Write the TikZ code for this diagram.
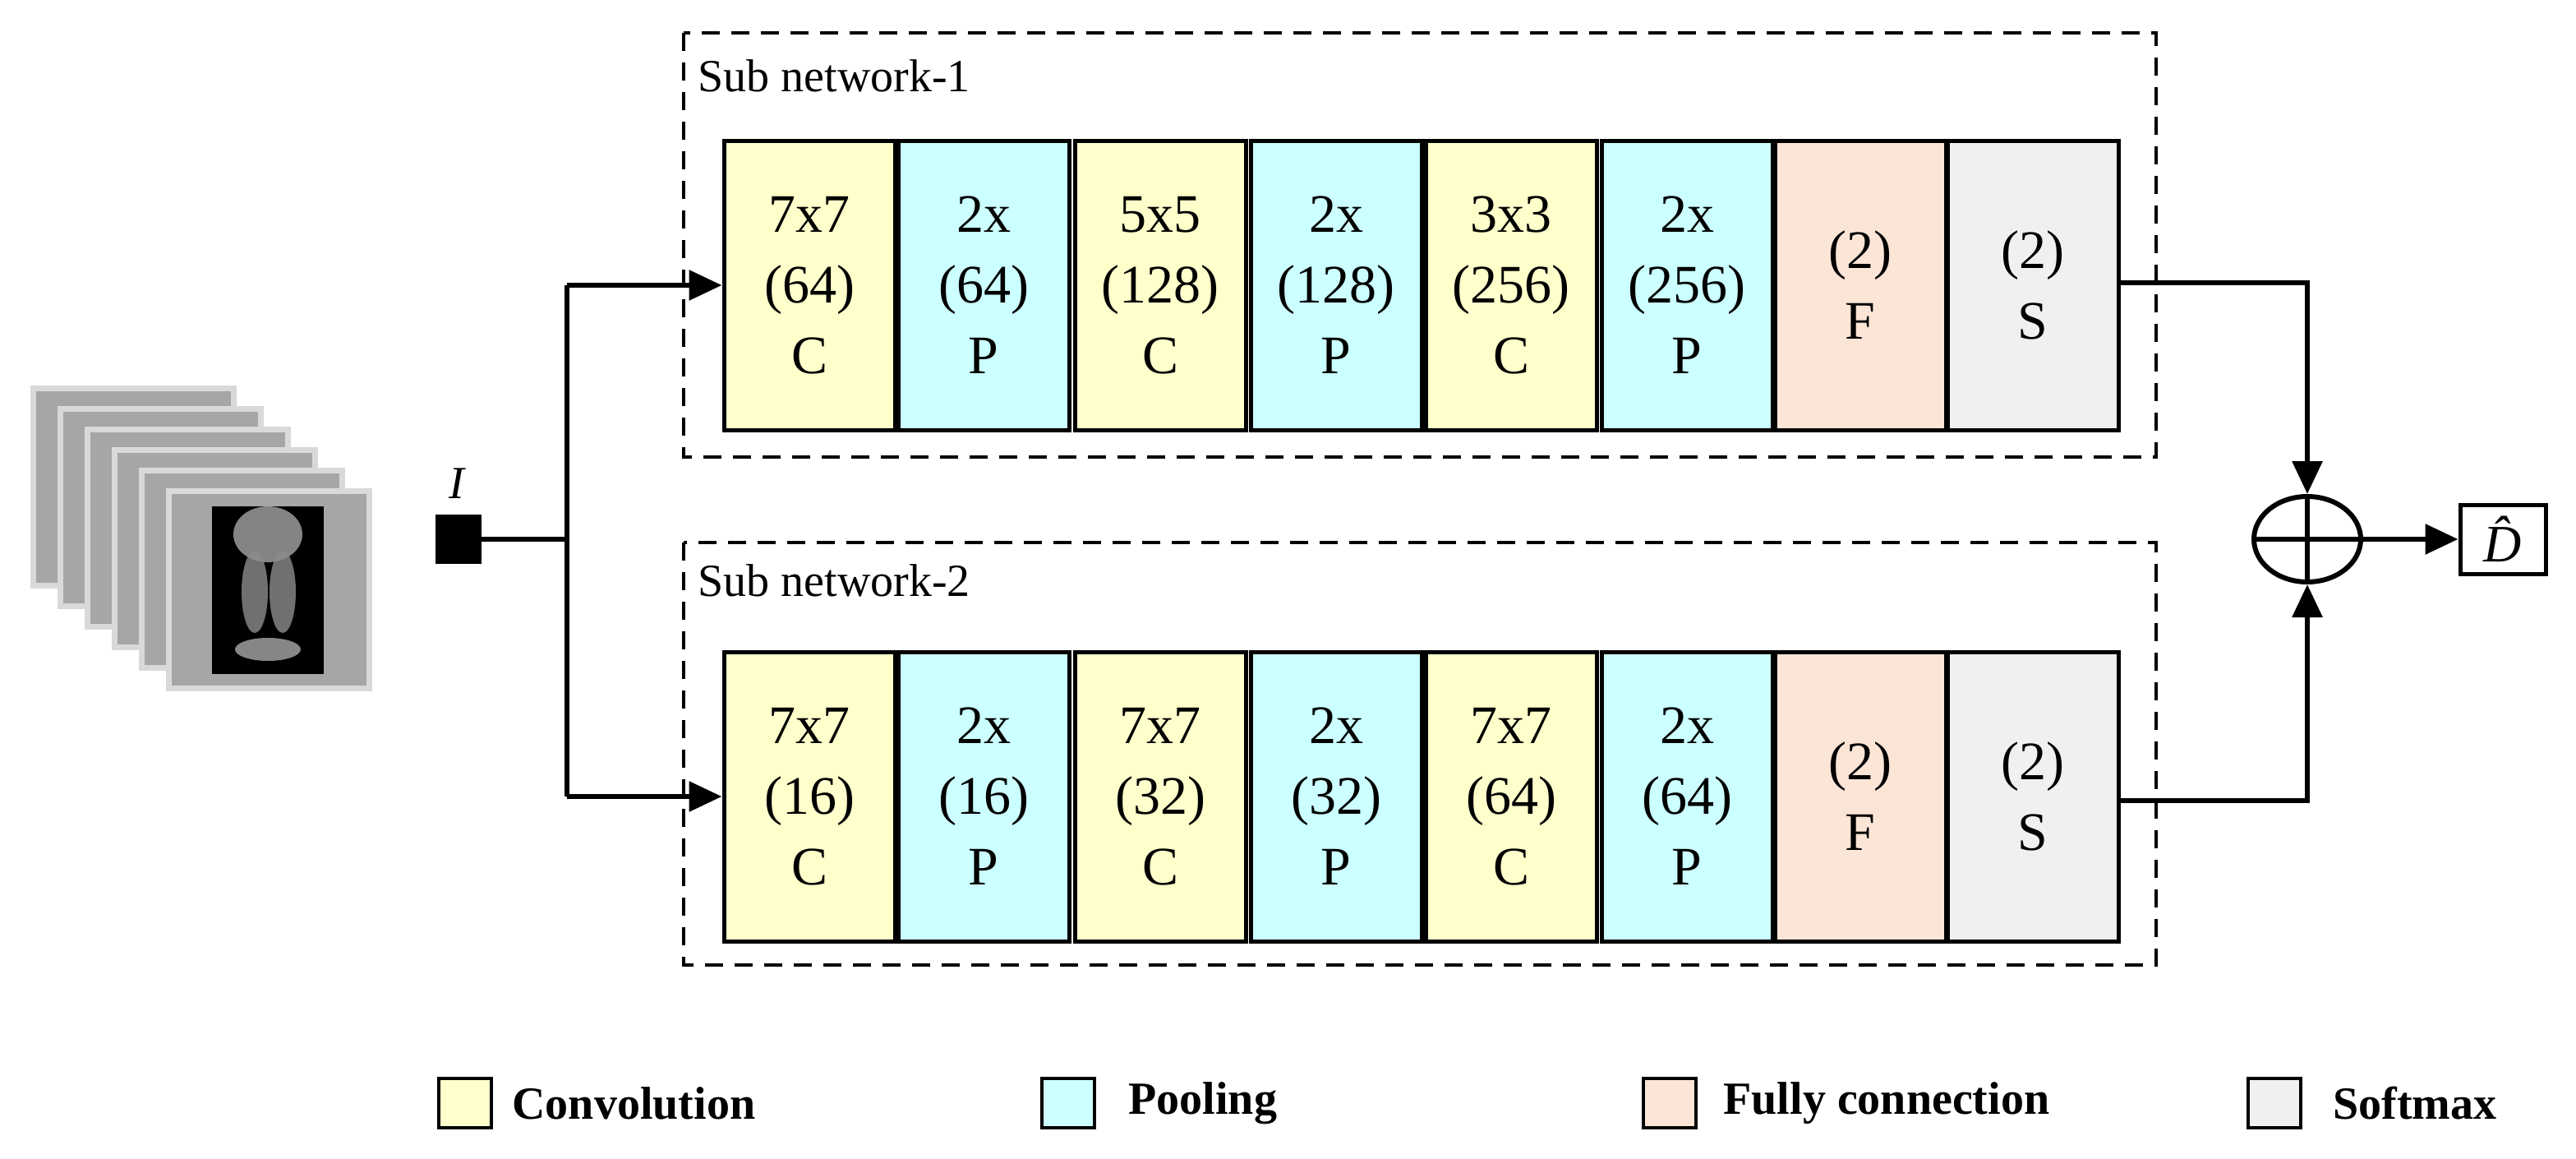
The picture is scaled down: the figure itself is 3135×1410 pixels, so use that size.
\documentclass[tikz,border=0pt]{standalone}
\usepackage{fontspec}
\setmainfont{Liberation Serif}
\usetikzlibrary{arrows.meta,shapes.geometric}
\definecolor{conv}{HTML}{FFFFCC}
\definecolor{pool}{HTML}{CCFFFF}
\definecolor{fc}{HTML}{FBE5D6}
\definecolor{soft}{HTML}{F0F0F0}
\definecolor{frame}{HTML}{A6A6A6}
\definecolor{frameb}{HTML}{D9D9D9}
\begin{document}
\begin{tikzpicture}[x=1pt,y=-1pt,
  blk/.style={draw=black,line width=5pt,minimum width=208pt,minimum height=352pt,align=center,inner sep=0pt,font=\fontsize{66}{86}\selectfont},
  C/.style={blk,fill=conv},P/.style={blk,fill=pool},F/.style={blk,fill=fc},S/.style={blk,fill=soft},
  dbox/.style={draw=black,line width=3.5pt,dash pattern=on 22pt off 14pt},
  wire/.style={line width=6pt},
  arr/.style={wire,-{Triangle[length=40pt,width=36pt]}},
  leg/.style={draw=black,line width=4pt,minimum width=64pt,minimum height=60pt,inner sep=0pt},
  legt/.style={anchor=west,font=\fontsize{56}{64}\selectfont\bfseries},
  fr/.style={draw=frameb,fill=frame,line width=7pt}]
\useasboundingbox (0,0) rectangle (3135,1410);
% image stack
\foreach \i in {0,...,5}{
  \draw[fr] ({40+\i*33},{472+\i*25}) rectangle ++(244,240);
}
\fill[black] (258,616) rectangle (394,820);
\fill[gray!70,opacity=0.8] (326,650) ellipse (42pt and 34pt);
\fill[gray!90,opacity=0.8] (310,720) ellipse (16pt and 50pt);
\fill[gray!90,opacity=0.8] (344,720) ellipse (16pt and 50pt);
\fill[gray!50,opacity=0.7] (326,790) ellipse (40pt and 14pt);
% input
\node[fill=black,minimum width=56pt,minimum height=60pt,inner sep=0pt] (in) at (558,656) {};
\node[font=\fontsize{56}{64}\selectfont\itshape] (I) at (556,588) {I};
\coordinate (sp) at (690,656);
\coordinate (sp1) at (690,347);
\coordinate (sp2) at (690,969);
% dashed boxes
\draw[dbox] (832,40) rectangle (2624,556);
\draw[dbox] (832,660) rectangle (2624,1174);
\node[anchor=west,font=\fontsize{56}{64}\selectfont] (l1) at (846,92) {Sub network-1};
\node[anchor=west,font=\fontsize{56}{64}\selectfont] (l2) at (846,706) {Sub network-2};
% blocks
\node[C] (a1) at (985,347) {7x7\\(64)\\C};
\node[P] (a2) at (1197,347) {2x\\(64)\\P};
\node[C] (a3) at (1412,347) {5x5\\(128)\\C};
\node[P] (a4) at (1626,347) {2x\\(128)\\P};
\node[C] (a5) at (1839,347) {3x3\\(256)\\C};
\node[P] (a6) at (2053,347) {2x\\(256)\\P};
\node[F] (a7) at (2264,347) {(2)\\F};
\node[S] (a8) at (2474,347) {(2)\\S};
\node[C] (b1) at (985,969) {7x7\\(16)\\C};
\node[P] (b2) at (1197,969) {2x\\(16)\\P};
\node[C] (b3) at (1412,969) {7x7\\(32)\\C};
\node[P] (b4) at (1626,969) {2x\\(32)\\P};
\node[C] (b5) at (1839,969) {7x7\\(64)\\C};
\node[P] (b6) at (2053,969) {2x\\(64)\\P};
\node[F] (b7) at (2264,969) {(2)\\F};
\node[S] (b8) at (2474,969) {(2)\\S};
% wires
\draw[wire] (in.east) -- (sp);
\draw[wire] (sp1) -- (sp2);
\draw[arr] (sp1) -- (a1.west);
\draw[arr] (sp2) -- (b1.west);
\node[ellipse,draw=black,line width=6pt,minimum width=130pt,minimum height=104pt,inner sep=0pt] (sum) at (2808,656) {};
\draw[line width=6pt] (sum.north) -- (sum.south) (sum.west) -- (sum.east);
\draw[arr] (a8.east |- 0,344) -- (2808,344) -- (sum.north);
\draw[arr] (b8.east |- 0,974) -- (2808,974) -- (sum.south);
\node[draw=black,line width=5pt,minimum width=104pt,minimum height=84pt,inner sep=0pt,font=\fontsize{64}{70}\selectfont\itshape] (out) at (3046,656) {\^{D}};
\draw[arr] (sum.east) -- (out.west);
% legend
\node[leg,fill=conv] (k1) at (566,1342) {};
\node[legt] (t1) at (620,1342) {Convolution};
\node[leg,fill=pool] (k2) at (1300,1342) {};
\node[legt] (t2) at (1370,1342) {Pooling};
\node[leg,fill=fc] (k3) at (2032,1342) {};
\node[legt] (t3) at (2094,1342) {Fully connection};
\node[leg,fill=soft] (k4) at (2768,1342) {};
\node[legt] (t4) at (2836,1342) {Softmax};
\end{tikzpicture}
\end{document}
